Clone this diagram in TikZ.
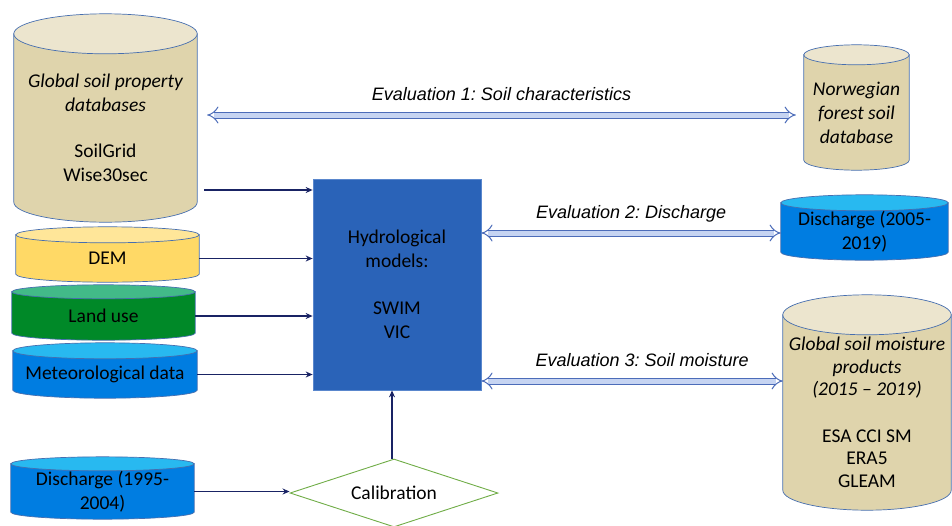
\documentclass[tikz,border=0pt]{standalone}
\usepackage{fontspec}
\setmainfont{Carlito}
\newfontfamily\evalfont{Liberation Sans}
\usetikzlibrary{shapes.geometric,arrows.meta,positioning,calc,backgrounds}
\frenchspacing

\definecolor{soiltan}{RGB}{223,212,172}
\definecolor{soiltop}{RGB}{236,229,206}
\definecolor{rimblue}{RGB}{70,110,175}
\definecolor{demyellow}{RGB}{255,217,102}
\definecolor{demtop}{RGB}{255,230,153}
\definecolor{landgreen}{RGB}{0,137,40}
\definecolor{landtop}{RGB}{66,186,136}
\definecolor{waterblue}{RGB}{0,125,225}
\definecolor{watertop}{RGB}{40,185,240}
\definecolor{modelblue}{RGB}{42,99,184}
\definecolor{modelrim}{RGB}{90,135,205}
\definecolor{calibgreen}{RGB}{112,173,71}
\definecolor{feednavy}{RGB}{25,35,100}
\definecolor{evalrim}{RGB}{76,108,185}
\definecolor{evalfill}{RGB}{198,212,242}

\tikzset{
  store/.style={rectangle, inner sep=0pt, align=center, font=\fontsize{19.5}{24}\selectfont},
  storeline/.style={draw=rimblue, line width=0.7pt},
  feed/.style={draw=feednavy, line width=1.2pt, -{Stealth[length=7pt,width=6pt]}},
  evalarrow/.style={draw=evalrim, line width=1pt, double=evalfill, double distance=5pt,
    {Implies[scale=1.4]}-{Implies[scale=1.4]}},
  evallabel/.style={font=\evalfont\itshape\fontsize{18}{21}\selectfont, anchor=base, yshift=15pt}
}

% can drawn round a node: node, end radius, body colour, end colour
\newcommand\storeshape[4]{%
  \draw[storeline, fill=#3] let \p1=(#1.west), \p2=(#1.east), \n1={(\x2-\x1)/2} in
    ([yshift=#2pt]#1.north west) -- (#1.south west)
    arc[start angle=180, end angle=360, x radius=\n1, y radius=#2pt]
    -- ([yshift=#2pt]#1.north east) -- cycle;
  \draw[storeline, fill=#4] let \p1=(#1.west), \p2=(#1.east), \n1={(\x2-\x1)/2} in
    ([yshift=#2pt]#1.north) ellipse[x radius=\n1, y radius=#2pt];
}

\begin{document}
\begin{tikzpicture}[x=1pt,y=1pt]
\useasboundingbox (0,0) rectangle (952,-525);
% data stores on the left
\node[store, minimum width=183, minimum height=148] (soildb) at (105.5,-128)
  {\itshape Global soil property\\\itshape databases\\[22pt]SoilGrid\\Wise30sec};
\node[store, minimum width=183, minimum height=31] (dem) at (107.5,-258.5) {DEM};
\node[store, minimum width=183, minimum height=34] (landuse) at (103.5,-316) {Land use};
\node[store, minimum width=184, minimum height=31] (meteo) at (105,-374.5) {Meteorological data};
\node[store, minimum width=183, minimum height=37] (dischin) at (102.5,-491.5) {Discharge (1995-\\2004)};
% model and calibration
\node[draw=modelrim, fill=modelblue, line width=0.7pt, minimum width=168, minimum height=211,
  align=center, font=\fontsize{19.5}{24}\selectfont] (models) at (397,-284.5)
  {Hydrological\\models:\\[23pt]SWIM\\VIC};
\node[diamond, draw=calibgreen, line width=0.9pt, fill=white, minimum width=208, minimum height=68,
  aspect=3, inner sep=0pt, font=\fontsize{19.5}{24}\selectfont] (calib) at (394,-493) {Calibration};
% evaluation data on the right
\node[store, minimum width=105, minimum height=95] (norway) at (856.5,-112.5)
  {\itshape Norwegian\\\itshape forest soil\\\itshape database};
\node[store, minimum width=167, minimum height=41] (dischout) at (864.5,-231.5) {Discharge (2005-\\2019)};
\node[store, minimum width=168, minimum height=155, font=\fontsize{19.5}{22.5}\selectfont]
  (moisture) at (867,-412.5)
  {\itshape Global soil moisture\\\itshape products\\\itshape (2015 -- 2019)\\[24pt]ESA CCI SM\\ERA5\\GLEAM};
\begin{scope}[on background layer]
  \storeshape{soildb}{20}{soiltan}{soiltop}
  \storeshape{dem}{8}{demyellow}{demtop}
  \storeshape{landuse}{7}{landgreen}{landtop}
  \storeshape{meteo}{8}{waterblue}{watertop}
  \storeshape{dischin}{7}{waterblue}{watertop}
  \storeshape{norway}{10}{soiltan}{soiltop}
  \storeshape{dischout}{8}{waterblue}{watertop}
  \storeshape{moisture}{20}{soiltan}{soiltop}
\end{scope}
% inputs
\draw[feed] ([xshift=7pt]soildb.east |- 0,-190) -- (models.west |- 0,-190);
\draw[feed] (dem.east) -- (dem.east -| models.west);
\draw[feed] (landuse.east) -- (landuse.east -| models.west);
\draw[feed] (meteo.east) -- (meteo.east -| models.west);
\draw[feed] (dischin.east) -- (dischin.east -| calib.west);
\draw[feed] ([xshift=-2pt]calib.north) -- ([xshift=-2pt]calib.north |- models.south);
% evaluations
\draw[evalarrow] ([xshift=10pt]soildb.east |- 0,-115) -- node[evallabel] (evalsoil) {Evaluation 1: Soil characteristics} ([xshift=-8pt]norway.west |- 0,-115);
\draw[evalarrow] (models.east |- 0,-233) -- node[evallabel] (evaldisch) {Evaluation 2: Discharge} (dischout.west |- 0,-233);
\draw[evalarrow] (models.east |- 0,-381) -- node[evallabel, xshift=10pt] (evalmoist) {Evaluation 3: Soil moisture} (moisture.west |- 0,-381);
\end{tikzpicture}
\end{document}
